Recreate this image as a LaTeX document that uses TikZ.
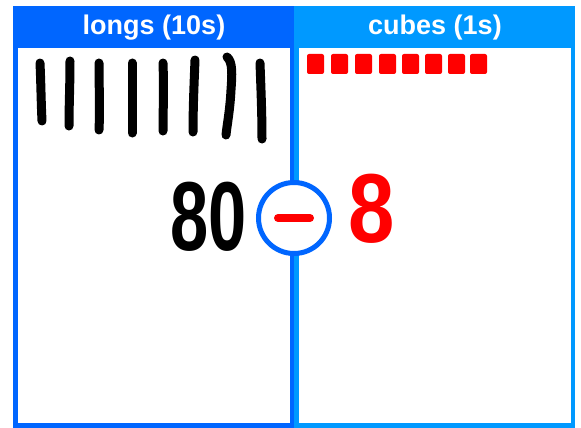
\documentclass[tikz,border=0pt]{standalone}
\usepackage{fontspec}
\setmainfont{Liberation Sans}
\definecolor{longblue}{HTML}{0066FF}
\definecolor{cubeblue}{HTML}{0099FF}
\definecolor{cubered}{HTML}{FF0000}
\begin{document}
\begin{tikzpicture}[x=1pt,y=-1pt,
  header/.style={text=white,font=\bfseries\fontsize{27}{27}\selectfont,inner sep=0pt,anchor=center},
  longstroke/.style={line width=9pt,line cap=round,line join=round,black},
  cube/.style={fill=cubered,draw=none,rounded corners=2pt},
  digit/.style={font=\bfseries\fontsize{98}{98}\selectfont,inner sep=0pt,anchor=center}]
\useasboundingbox (0,0) rectangle (581,428);
\fill[white] (0,0) rectangle (581,428);
% panels
\fill[longblue] (13,6) rectangle (294,428);
\fill[white] (18,48) rectangle (290,423);
\fill[cubeblue] (294,6) rectangle (575,428);
\fill[white] (299,48) rectangle (571,423);
% headers
\node[header] (hl) at (154,28) {longs (10s)};
\node[header] (hc) at (435,28) {cubes (1s)};
% longs
\draw[longstroke] (40,63) .. controls (41,85) and (41,100) .. (42,121);
\draw[longstroke] (70,61) .. controls (70,85) and (69,105) .. (69,126);
\draw[longstroke] (99,63) .. controls (99,85) and (100,110) .. (99,130);
\draw[longstroke] (132,63) .. controls (132,90) and (132,110) .. (132,133);
\draw[longstroke] (163,63) .. controls (164,90) and (163,110) .. (163,131);
\draw[longstroke] (195,60) .. controls (194,85) and (193,110) .. (193,132);
\draw[longstroke] (227,57) .. controls (233,62) and (232,75) .. (231,90) .. controls (230,110) and (227,125) .. (226,135);
\draw[longstroke] (260,63) .. controls (261,90) and (262,115) .. (262,139);
% cubes
\foreach \i/\x in {1/307,2/331,3/355,4/379,5/402,6/425,7/448,8/470}{
  \fill[cube] (\x,54) rectangle ++(17,20);
}
% numbers
\node[digit,text=black] (n80) at (208.5,217) {\scalebox{0.7}[1]{80}};
\node[circle,draw=longblue,fill=white,line width=5pt,minimum size=71pt,inner sep=0pt] (op) at (294,218) {};
\draw[line width=8pt,line cap=round,cubered] ([xshift=-16pt]op.center) -- ([xshift=16pt]op.center);
\node[digit,text=cubered] (n8) at (371.5,209) {\scalebox{0.85}[1]{8}};
\end{tikzpicture}
\end{document}
